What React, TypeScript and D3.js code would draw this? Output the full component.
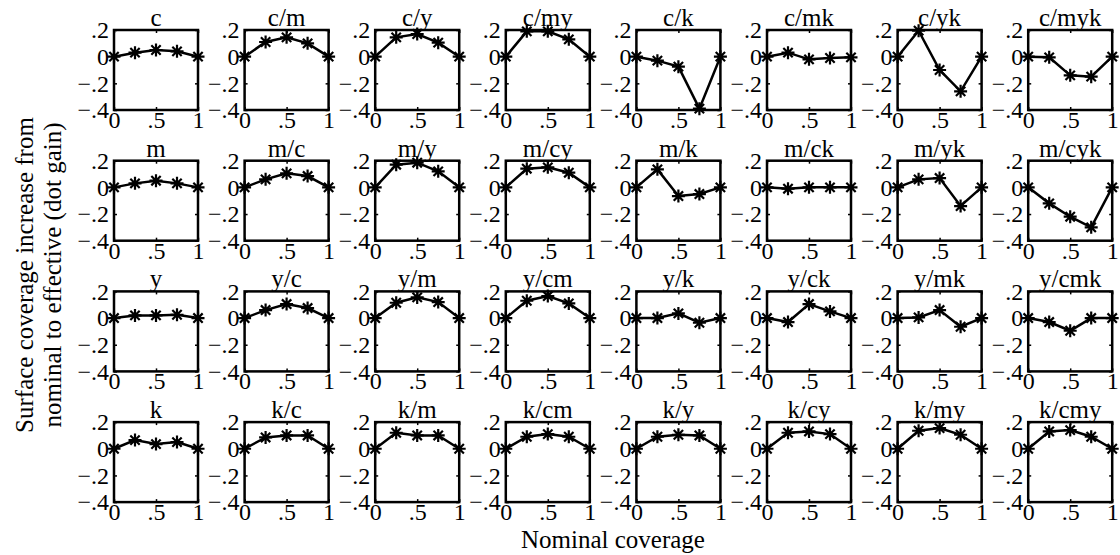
import React, { useRef, useEffect } from "react";
import * as d3 from "d3";

// nominal coverage steps shared by every panel
const coverage = [0, 0.25, 0.5, 0.75, 1];
const yTicks = [0.2, 0, -0.2, -0.4];
const xTicks = [0, 0.5, 1];

const cyanTitles = ["c", "c/m", "c/y", "c/my", "c/k", "c/mk", "c/yk", "c/myk"];
const magentaTitles = ["m", "m/c", "m/y", "m/cy", "m/k", "m/ck", "m/yk", "m/cyk"];
const yellowTitles = ["y", "y/c", "y/m", "y/cm", "y/k", "y/ck", "y/mk", "y/cmk"];
const blackTitles = ["k", "k/c", "k/m", "k/cm", "k/y", "k/cy", "k/my", "k/cmy"];

const cyanGain = [
  [0, 0.03, 0.05, 0.04, 0],
  [0, 0.11, 0.145, 0.1, 0],
  [0, 0.145, 0.17, 0.105, 0],
  [0, 0.19, 0.19, 0.13, 0],
  [0, -0.03, -0.075, -0.39, 0],
  [0, 0.03, -0.02, -0.01, -0.005],
  [0, 0.195, -0.1, -0.26, 0],
  [0, -0.005, -0.14, -0.15, 0],
];
const magentaGain = [
  [0, 0.03, 0.05, 0.03, 0],
  [0, 0.06, 0.105, 0.085, 0],
  [0, 0.17, 0.185, 0.12, 0],
  [0, 0.14, 0.15, 0.11, 0],
  [0, 0.135, -0.065, -0.05, 0],
  [0, -0.01, 0, 0, 0],
  [0, 0.06, 0.07, -0.14, 0],
  [0, -0.12, -0.22, -0.3, 0],
];
const yellowGain = [
  [0, 0.02, 0.02, 0.025, 0],
  [0, 0.06, 0.105, 0.075, 0],
  [0, 0.115, 0.155, 0.12, 0],
  [0, 0.13, 0.165, 0.11, 0],
  [0, 0, 0.035, -0.035, 0],
  [0, -0.03, 0.105, 0.05, 0],
  [0, 0.005, 0.06, -0.065, 0],
  [0, -0.03, -0.095, 0, 0],
];
const blackGain = [
  [0, 0.065, 0.035, 0.05, 0],
  [0, 0.085, 0.1, 0.1, 0],
  [0, 0.12, 0.1, 0.1, 0],
  [0, 0.09, 0.11, 0.09, 0],
  [0, 0.09, 0.105, 0.1, 0],
  [0, 0.12, 0.13, 0.11, 0],
  [0, 0.135, 0.155, 0.105, 0],
  [0, 0.13, 0.14, 0.09, 0],
];

const rowTitles = [cyanTitles, magentaTitles, yellowTitles, blackTitles];
const rowGain = [cyanGain, magentaGain, yellowGain, blackGain];

const FONT = "Liberation Serif";

const App = () => {
  const svgRef = useRef<SVGSVGElement>(null);

  useEffect(() => {
    const svg = d3.select(svgRef.current);
    svg.selectAll("*").remove();

    const w = 84;
    const h = 80;
    const left = 114;
    const top = 30;
    const stepX = 130.6;
    const stepY = 130.7;

    const x = d3.scaleLinear().domain([0, 1]).range([0, w]);
    const y = d3.scaleLinear().domain([-0.4, 0.2]).range([h, 0]);

    const fmt = (d: number) =>
      d === 0 ? "0" : (d < 0 ? "\u2212" : "") + String(Math.abs(d)).replace(/^0/, "");

    const line = d3
      .line<number>()
      .x((_, i) => x(coverage[i]))
      .y((d) => y(d));

    const r = 6.5;
    const q = r * 0.72;
    const star = `M${-r},0L${r},0M0,${-r}L0,${r}M${-q},${-q}L${q},${q}M${-q},${q}L${q},${-q}`;

    rowGain.forEach((row, ri) => {
      row.forEach((vals, ci) => {
        const g = svg
          .append("g")
          .attr("transform", `translate(${left + ci * stepX},${top + ri * stepY})`);

        // axes with inward ticks
        const yAx = g.append("g").call(
          d3.axisLeft(y).tickValues(yTicks).tickSize(-3).tickPadding(5).tickFormat(fmt as any)
        );
        const xAx = g
          .append("g")
          .attr("transform", `translate(0,${h})`)
          .call(d3.axisBottom(x).tickValues(xTicks).tickSize(-3).tickPadding(1).tickFormat(fmt as any));
        g.append("g")
          .attr("transform", `translate(${w},0)`)
          .call(d3.axisRight(y).tickValues(yTicks).tickSize(-3).tickFormat(() => ""));
        g.append("g").call(d3.axisTop(x).tickValues(xTicks).tickSize(-3).tickFormat(() => ""));

        g.selectAll("g").attr("font-family", FONT);
        g.selectAll(".domain").remove();
        g.selectAll(".tick line").attr("stroke", "#000").attr("stroke-width", 1.5);
        [yAx, xAx].forEach((ax) =>
          ax.selectAll("text").attr("font-family", FONT).attr("font-size", 24).attr("fill", "#000")
        );

        g.append("rect")
          .attr("width", w)
          .attr("height", h)
          .attr("fill", "none")
          .attr("stroke", "#000")
          .attr("stroke-width", 2.5);

        g.append("path")
          .attr("d", line(vals))
          .attr("fill", "none")
          .attr("stroke", "#000")
          .attr("stroke-width", 2.5);

        g.selectAll("path.star")
          .data(vals)
          .enter()
          .append("path")
          .attr("class", "star")
          .attr("transform", (d, i) => `translate(${x(coverage[i])},${y(d)})`)
          .attr("d", star)
          .attr("stroke", "#000")
          .attr("stroke-width", 2.2)
          .attr("fill", "none");

        g.append("text")
          .attr("x", w / 2)
          .attr("y", -4)
          .attr("text-anchor", "middle")
          .attr("font-family", FONT)
          .attr("font-size", 25)
          .text(rowTitles[ri][ci]);
      });
    });

    // shared axis labels
    svg
      .append("text")
      .attr("x", 613)
      .attr("y", 548)
      .attr("text-anchor", "middle")
      .attr("font-family", FONT)
      .attr("font-size", 25)
      .text("Nominal coverage");

    const ylab = ["Surface coverage increase from", "nominal to effective (dot gain)"];
    ylab.forEach((t, i) => {
      svg
        .append("text")
        .attr("transform", `translate(${33 + i * 28},275) rotate(-90)`)
        .attr("text-anchor", "middle")
        .attr("font-family", FONT)
        .attr("font-size", 25)
        .text(t);
    });
  }, []);

  return (
    <svg
      ref={svgRef}
      width={1120}
      height={555}
      style={{ position: "absolute", left: 0, top: 0, background: "#fff" }}
    ></svg>
  );
};

export default App;
